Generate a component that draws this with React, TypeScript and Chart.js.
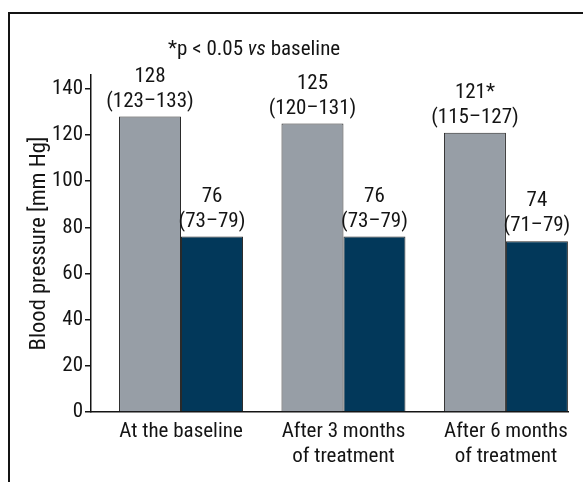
import React, { useEffect, useRef } from "react";
import { Chart, registerables } from "chart.js";

Chart.register(...registerables);

const categories: string[][] = [
  ["At the baseline"],
  ["After 3 months", "of treatment"],
  ["After 6 months", "of treatment"],
];
const systolic = [128, 125, 121];
const systolicLow = [123, 120, 115];
const systolicHigh = [133, 131, 127];
const systolicSig = [false, false, true];
const diastolic = [76, 76, 74];
const diastolicLow = [73, 73, 71];
const diastolicHigh = [79, 79, 79];
const yTicks = [0, 20, 40, 60, 80, 100, 120, 140];
const yMax = 146;
const yTitle = "Blood pressure [mm Hg]";
const noteParts = ["*p < 0.05 ", "vs", " baseline"];

const FONT = "Roboto, 'Liberation Sans', sans-serif";
const STRETCH = "condensed";
const SIZE = 21;
const INK = "#141414";

const labelPlugin = {
  id: "barLabels",
  afterDatasetsDraw(chart: any) {
    const ctx = chart.ctx;
    ctx.save();
    ctx.fillStyle = INK;
    ctx.textAlign = "center";
    ctx.textBaseline = "middle";
    ctx.font = `${STRETCH} ${SIZE}px ${FONT}`;
    const sets = [
      { vals: systolic, lo: systolicLow, hi: systolicHigh, sig: systolicSig },
      { vals: diastolic, lo: diastolicLow, hi: diastolicHigh, sig: [false, false, false] },
    ];
    sets.forEach((s, d) => {
      const meta = chart.getDatasetMeta(d);
      meta.data.forEach((el: any, i: number) => {
        const top = el.y;
        ctx.fillText(`${s.vals[i]}${s.sig[i] ? "*" : ""}`, el.x, top - 40);
        ctx.fillText(`(${s.lo[i]}–${s.hi[i]})`, el.x, top - 15);
      });
    });
    const ca = chart.chartArea;
    let x = ca.left + 77;
    const y = ca.top - 25;
    ctx.textAlign = "left";
    noteParts.forEach((p, i) => {
      ctx.font = `${i === 1 ? "italic " : ""}${STRETCH} ${SIZE}px ${FONT}`;
      ctx.fillText(p, x, y);
      x += ctx.measureText(p).width;
    });
    ctx.restore();
  },
};

export default function App() {
  const ref = useRef<HTMLCanvasElement>(null);
  useEffect(() => {
    if (!ref.current) return;
    const font = (lh?: number, size: number = SIZE) => ({
      family: FONT,
      size,
      weight: STRETCH as any,
      ...(lh ? { lineHeight: lh } : {}),
    });
    const chart = new Chart(ref.current, {
      type: "bar",
      data: {
        datasets: [
          {
            data: systolic.map((v, i) => ({ x: i, y: v })),
            backgroundColor: "#979ea6",
            borderColor: "#2a2a2a",
            borderWidth: 1,
          },
          {
            data: diastolic.map((v, i) => ({ x: i, y: v })),
            backgroundColor: "#02385a",
            borderColor: "#2a2a2a",
            borderWidth: 1,
          },
        ],
      },
      options: {
        responsive: false,
        animation: false,
        layout: { padding: { left: 26, top: 75, right: 15, bottom: 0 } },
        datasets: { bar: { barPercentage: 1, categoryPercentage: 0.763 } } as any,
        plugins: { legend: { display: false }, tooltip: { enabled: false } },
        scales: {
          x: {
            type: "linear",
            min: -0.554,
            max: 2.382,
            offset: false,
            grid: { display: false, drawTicks: false, offset: false },
            border: { display: true, color: INK, width: 1.5 },
            afterBuildTicks: (scale: any) => {
              scale.ticks = categories.map((_, i) => ({ value: i }));
            },
            afterFit: (scale: any) => {
              scale.height = 70;
            },
            ticks: {
              color: INK,
              padding: 7,
              maxRotation: 0,
              autoSkip: false,
              font: font(1.2),
              callback: (v: any) => categories[v as number],
            },
          },
          y: {
            min: 0,
            max: yMax,
            grid: { display: true, drawOnChartArea: false, drawTicks: true, tickLength: 6, color: INK, lineWidth: 1.5 },
            border: { display: true, color: INK, width: 1.5 },
            afterBuildTicks: (scale: any) => {
              scale.ticks = yTicks.map((v) => ({ value: v }));
            },
            afterFit: (scale: any) => {
              scale.width = 91 - 26;
            },
            ticks: {
              color: INK,
              padding: 2,
              font: font(),
            },
            title: {
              display: true,
              text: yTitle,
              color: INK,
              padding: 0,
              font: font(1.2, 22.5),
            },
          },
        },
      },
      plugins: [labelPlugin],
    });
    return () => chart.destroy();
  }, []);
  return (
    <div style={{ position: "fixed", left: 0, top: 0, width: 583, height: 482, overflow: "hidden", background: "#fff" }}>
      <div
        style={{
          position: "absolute",
          left: 8,
          top: 12,
          width: 600,
          height: 500,
          borderTop: `2px solid ${INK}`,
          borderLeft: `2px solid ${INK}`,
        }}
      />
      <canvas ref={ref} width={583} height={482} style={{ position: "absolute", left: 0, top: 0 }} />
    </div>
  );
}
